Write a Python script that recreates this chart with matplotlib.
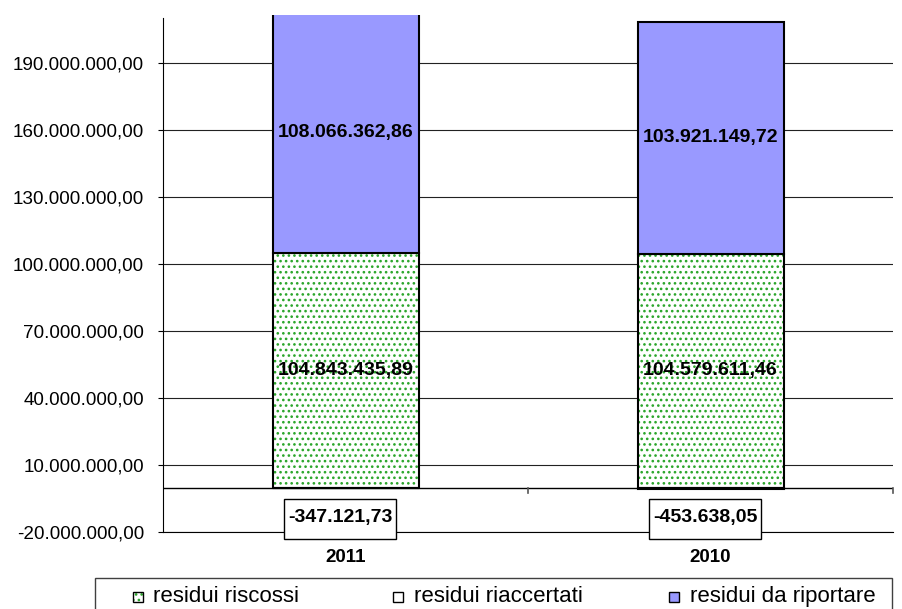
import matplotlib
matplotlib.use('Agg')
import matplotlib.pyplot as plt
from matplotlib.patches import Rectangle
import numpy as np

plt.rcParams['font.family'] = ['Liberation Sans', 'DejaVu Sans']
plt.rcParams['hatch.linewidth'] = 1.1

# ---- data ----
categories = ['2011', '2010']
series_names = ['residui riscossi', 'residui riaccertati', 'residui da riportare']
riscossi = [104843435.89, 104579611.46]
riaccertati = [-347121.73, -453638.05]
da_riportare = [108066362.86, 103921149.72]
y_ticks = [-20000000, 10000000, 40000000, 70000000, 100000000,
           130000000, 160000000, 190000000]

GREEN = '#2aa52a'
PURPLE = '#9999FF'


def fmt_it(v):
    s = f"{v:,.2f}"
    return s.replace(',', 'X').replace('.', ',').replace('X', '.')


W, H = 903, 609
fig = plt.figure(figsize=(W / 100, H / 100), dpi=100)


def fx(px):
    return px / W


def fy(py):
    return 1 - py / H


ax_top, ax_bot = 15, 532.3
ax = fig.add_axes([fx(163), fy(ax_bot), fx(893) - fx(163), (ax_bot - ax_top) / H])
ax.set_xlim(-0.5, 1.5)
ax.set_ylim(-20e6, 211.6e6)

x = np.arange(len(categories))
bw = 0.4
ax.bar(x, riscossi, bw, color='white', edgecolor=GREEN, hatch='...', linewidth=0, zorder=2)
ax.bar(x, riscossi, bw, fill=False, edgecolor='black', linewidth=1.5, zorder=3)
ax.bar(x, riaccertati, bw, color='white', edgecolor='black', linewidth=1.5, zorder=3)
ax.bar(x, da_riportare, bw, bottom=riscossi, color=PURPLE, edgecolor='black',
       linewidth=1.5, zorder=3)

# grid & axes
ax.set_yticks(y_ticks)
ax.set_yticklabels([fmt_it(v) for v in y_ticks], fontsize=13.6)
ax.yaxis.grid(True, color='#222222', linewidth=0.8)
ax.set_axisbelow(True)
ax.tick_params(axis='y', length=3.6, width=0.8, pad=10, direction='out')
ax.axhline(0, color='black', linewidth=1.0, zorder=1.5)
for xb in [0.5, 1.5]:
    ax.plot([xb, xb], [0, -2.4e6], color='#555555', linewidth=1.2, zorder=1.5,
            clip_on=False)

ax.spines['top'].set_visible(False)
ax.spines['right'].set_visible(False)
ax.spines['bottom'].set_linewidth(0.8)
ax.spines['left'].set_linewidth(0.8)
ax.spines['left'].set_bounds(-20e6, 210.3e6)

ax.set_xticks(x)
ax.set_xticklabels(categories, fontsize=13.5, fontweight='bold')
ax.tick_params(axis='x', length=0, pad=12)

# value labels
for i in range(len(categories)):
    ax.text(x[i], riscossi[i] / 2, fmt_it(riscossi[i]), ha='center', va='center',
            fontsize=14, fontweight='bold', zorder=5)
    ax.text(x[i], riscossi[i] + da_riportare[i] / 2, fmt_it(da_riportare[i]),
            ha='center', va='center', fontsize=14, fontweight='bold', zorder=5)
    cx = x[i] - 0.015
    ax.add_patch(Rectangle((cx - 0.153, -23.0e6), 0.306, 17.9e6, facecolor='white',
                           edgecolor='black', linewidth=1.0, clip_on=False, zorder=4))
    ax.text(cx, -13.4e6, fmt_it(riaccertati[i]), ha='center', va='center',
            fontsize=14, fontweight='bold', zorder=5, clip_on=False)

# legend (drawn manually)
fig.patches.append(Rectangle((fx(95), fy(620)), fx(892) - fx(95), (620 - 578) / H,
                             transform=fig.transFigure, facecolor='white',
                             edgecolor='#404040', linewidth=1.0))
marker_x = [133, 393, 669]
text_x = [153, 414, 690]
styles = [dict(facecolor='white', edgecolor=GREEN, hatch='...', linewidth=0),
          dict(facecolor='white', edgecolor='black', linewidth=1.0),
          dict(facecolor=PURPLE, edgecolor='black', linewidth=1.0)]
for mx, tx, name, st in zip(marker_x, text_x, series_names, styles):
    fig.patches.append(Rectangle((fx(mx), fy(602)), 10 / W, 10 / H,
                                 transform=fig.transFigure, **st))
    if 'hatch' in st:
        fig.patches.append(Rectangle((fx(mx), fy(602)), 10 / W, 10 / H,
                                     transform=fig.transFigure, fill=False,
                                     edgecolor='black', linewidth=1.0))
    fig.text(fx(tx), fy(602), name, fontsize=16, ha='left', va='baseline')

fig.savefig('out.png', dpi=100)
